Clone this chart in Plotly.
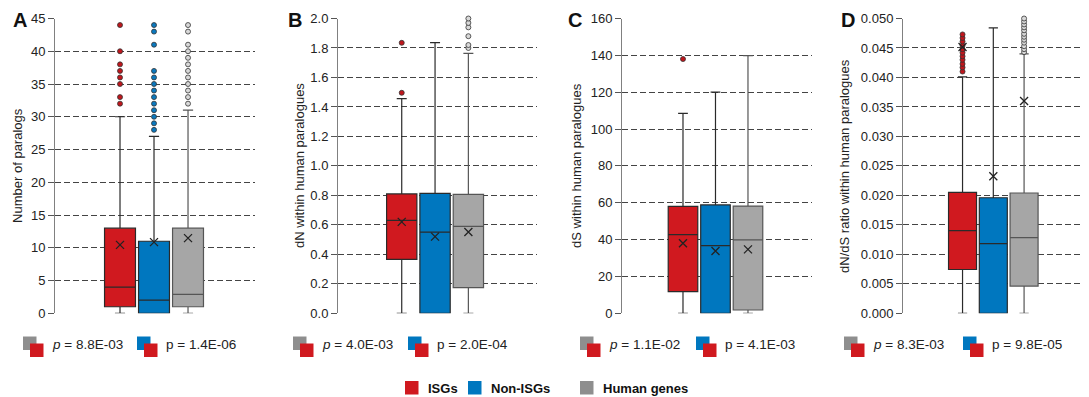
import plotly.graph_objects as go

W, H = 1089, 397
OFF = 8  # page body margin offset in the browser

groups = ["ISGs", "Non-ISGs", "Human genes"]
box_colors = ["#D0191F", "#0077BF", "#A6A6A6"]
icon_colors = ["#D0191F", "#0077BF", "#8E8E8E"]
outlier_fill = ["#C0161C", "#0A78BE", "#D9D9D9"]

# Panel A: Number of paralogs
a_q1 = [1, 0, 1]
a_med = [4, 2, 2.9]
a_q3 = [13, 11, 13]
a_lo = [0, 0, 0]
a_hi = [30, 27, 31]
a_mean = [10.45, 10.86, 11.47]
a_out = [
    [32, 33, 35, 36, 37, 38, 40, 44],
    [28, 29, 30, 31, 32, 33, 34, 35, 36, 37, 41, 43, 44],
    [32, 33, 34, 35, 36, 37, 38, 39, 40, 41, 43, 44],
]

# Panel B: dN
b_q1 = [0.366, 0.0, 0.174]
b_med = [0.63, 0.551, 0.59]
b_q3 = [0.81, 0.813, 0.807]
b_lo = [0.0, 0.0, 0.0]
b_hi = [1.457, 1.837, 1.763]
b_mean = [0.62, 0.52, 0.551]
b_out = [
    [1.496, 1.835],
    [],
    [1.80, 1.82, 1.88, 1.94, 1.97, 2.0],
]

# Panel C: dS
c_q1 = [11.75, 0.0, 1.8]
c_med = [42.7, 36.7, 39.8]
c_q3 = [58.0, 58.8, 58.2]
c_lo = [0, 0, 0]
c_hi = [108.5, 120.0, 139.8]
c_mean = [38.0, 33.8, 34.7]
c_out = [[138.0], [], []]

# Panel D: dN/dS
d_q1 = [0.00743, 0.0, 0.00462]
d_med = [0.01402, 0.01182, 0.01284]
d_q3 = [0.0205, 0.0196, 0.0204]
d_lo = [0.0, 0.0, 0.0]
d_hi = [0.0401, 0.0484, 0.0440]
d_mean = [0.04516, 0.02325, 0.0360]
d_out = [
    [0.0410, 0.0417, 0.0423, 0.0430, 0.0436, 0.0442, 0.0448, 0.0454, 0.0461, 0.0467, 0.0473],
    [],
    [0.0443, 0.0448, 0.0453, 0.0459, 0.0464, 0.0469, 0.0474, 0.0480, 0.0485, 0.0490, 0.0495, 0.0500],
]

panel_letters = ["A", "B", "C", "D"]
y_titles = ["Number of paralogs", "dN within human paralogues",
            "dS within human paralogues", "dN/dS ratio within human paralogues"]
y_ranges = [[0, 45], [0, 2.0], [0, 160], [0, 0.05]]
y_dticks = [5, 0.2, 20, 0.005]
y_formats = ["d", ".1f", "d", ".3f"]
p_grey = ["8.8E-03", "4.0E-03", "1.1E-02", "8.3E-03"]
p_blue = ["1.4E-06", "2.0E-04", "4.1E-03", "9.8E-05"]

panels = [
    (a_q1, a_med, a_q3, a_lo, a_hi, a_mean, a_out),
    (b_q1, b_med, b_q3, b_lo, b_hi, b_mean, b_out),
    (c_q1, c_med, c_q3, c_lo, c_hi, c_mean, c_out),
    (d_q1, d_med, d_q3, d_lo, d_hi, d_mean, d_out),
]

# layout geometry (screen pixels)
x_doms_px = [(55, 255), (338, 537), (622, 812), (903, 1085)]
x_ranges = [[-1.912, 3.97], [-1.913, 4.06], [-1.877, 3.97], [-1.935, 3.98]]
y_top_px, y_bot_px = 18.5, 313.3
title_x_px = [18, 300, 577, 845]
letter_x_px = [19.5, 295, 575, 848]
icon_grey_x = [23, 293, 580, 844]
icon_blue_x = [137, 408, 696, 963]


def PX(x):
    return (x - OFF) / W


def PY(y):
    return 1 - (y - OFF) / H


FONT = "Liberation Sans, Arial, sans-serif"
fig = go.Figure()
layout = dict(
    width=W, height=H, margin=dict(l=0, r=0, t=0, b=0, pad=0, autoexpand=False),
    paper_bgcolor="white", plot_bgcolor="white", showlegend=False,
    font=dict(family=FONT, size=13, color="#222"),
)
annotations = []
shapes = []
whisker_colors = ["#2a2a2a", "#2a2a2a", "#555555"]

for i, (q1, med, q3, lo, hi, mean, outs) in enumerate(panels):
    sfx = "" if i == 0 else str(i + 1)
    xa, ya = "x" + sfx, "y" + sfx
    for g in range(3):
        fig.add_trace(go.Box(
            x=[g], q1=[q1[g]], median=[med[g]], q3=[q3[g]],
            lowerfence=[lo[g]], upperfence=[hi[g]],
            width=0.91, whiskerwidth=0.33, boxpoints=False,
            fillcolor=box_colors[g],
            line=dict(color=whisker_colors[g], width=1.2),
            xaxis=xa, yaxis=ya, name=groups[g], hoverinfo="skip",
        ))
        if outs[g]:
            fig.add_trace(go.Scatter(
                x=[g] * len(outs[g]), y=outs[g], mode="markers",
                marker=dict(symbol="circle", size=5, color=outlier_fill[g],
                            line=dict(color="#333", width=0.8)),
                xaxis=xa, yaxis=ya, hoverinfo="skip", cliponaxis=False,
            ))
        fig.add_trace(go.Scatter(
            x=[g], y=[mean[g]], mode="markers",
            marker=dict(symbol="x-thin", size=8, color="#222",
                        line=dict(color="#222", width=1.3)),
            xaxis=xa, yaxis=ya, hoverinfo="skip", cliponaxis=False,
        ))

    x0, x1 = x_doms_px[i]
    layout["xaxis" + sfx] = dict(
        domain=[PX(x0), PX(x1)], range=x_ranges[i], anchor=ya,
        showgrid=False, zeroline=False, showticklabels=False,
        ticks="", showline=False, fixedrange=True, automargin=False,
    )
    layout["yaxis" + sfx] = dict(
        domain=[PY(y_bot_px), PY(y_top_px)], range=y_ranges[i], anchor=xa,
        dtick=y_dticks[i], tick0=0, tickformat=y_formats[i],
        showgrid=True, gridcolor="#444444", gridwidth=1, griddash="6px,3px",
        zeroline=False, showline=True, linecolor="#808080", linewidth=1,
        ticks="outside", ticklen=6, tickcolor="#555", tickwidth=1,
        tickfont=dict(family=FONT, size=13, color="#222"),
        fixedrange=True, automargin=False,
    )

    # y title
    annotations.append(dict(
        text=y_titles[i], xref="paper", yref="paper",
        x=PX(title_x_px[i]), y=PY((y_top_px + y_bot_px) / 2),
        textangle=-90, showarrow=False, xanchor="center", yanchor="middle",
        font=dict(family=FONT, size=13, color="#222"),
    ))
    # panel letter
    annotations.append(dict(
        text="<b>%s</b>" % panel_letters[i], xref="paper", yref="paper",
        x=PX(letter_x_px[i]), y=PY(20.5), showarrow=False,
        xanchor="center", yanchor="middle",
        font=dict(family=FONT, size=20, color="#111"),
    ))

    # p-value icons and texts
    for bx, back_col, ptxt, ital in [
        (icon_grey_x[i], icon_colors[2], p_grey[i], True),
        (icon_blue_x[i], icon_colors[1], p_blue[i], False),
    ]:
        shapes.append(dict(type="rect", xref="paper", yref="paper",
                           x0=PX(bx), x1=PX(bx + 13.5), y0=PY(350), y1=PY(336.5),
                           fillcolor=back_col, line=dict(width=0), layer="above"))
        shapes.append(dict(type="rect", xref="paper", yref="paper",
                           x0=PX(bx + 7), x1=PX(bx + 20.5), y0=PY(357), y1=PY(343.5),
                           fillcolor=icon_colors[0], line=dict(width=0), layer="above"))
        ptag = "<i>p</i>" if ital else "p"
        annotations.append(dict(
            text="%s = %s" % (ptag, ptxt), xref="paper", yref="paper",
            x=PX(bx + 27), y=PY(344), showarrow=False,
            xanchor="left", yanchor="middle",
            font=dict(family=FONT, size=13.5, color="#222"),
        ))

# bottom legend
legend_x = [405, 468, 580]
for g in range(3):
    lx = legend_x[g]
    shapes.append(dict(type="rect", xref="paper", yref="paper",
                       x0=PX(lx), x1=PX(lx + 13.5), y0=PY(394.5), y1=PY(381),
                       fillcolor=icon_colors[g], line=dict(width=0), layer="above"))
    annotations.append(dict(
        text="<b>%s</b>" % groups[g], xref="paper", yref="paper",
        x=PX(lx + 21), y=PY(388), showarrow=False,
        xanchor="left", yanchor="middle",
        font=dict(family=FONT, size=13, color="#111"),
    ))

layout["annotations"] = annotations
layout["shapes"] = shapes
fig.update_layout(**layout)
fig.write_html("out.html")
